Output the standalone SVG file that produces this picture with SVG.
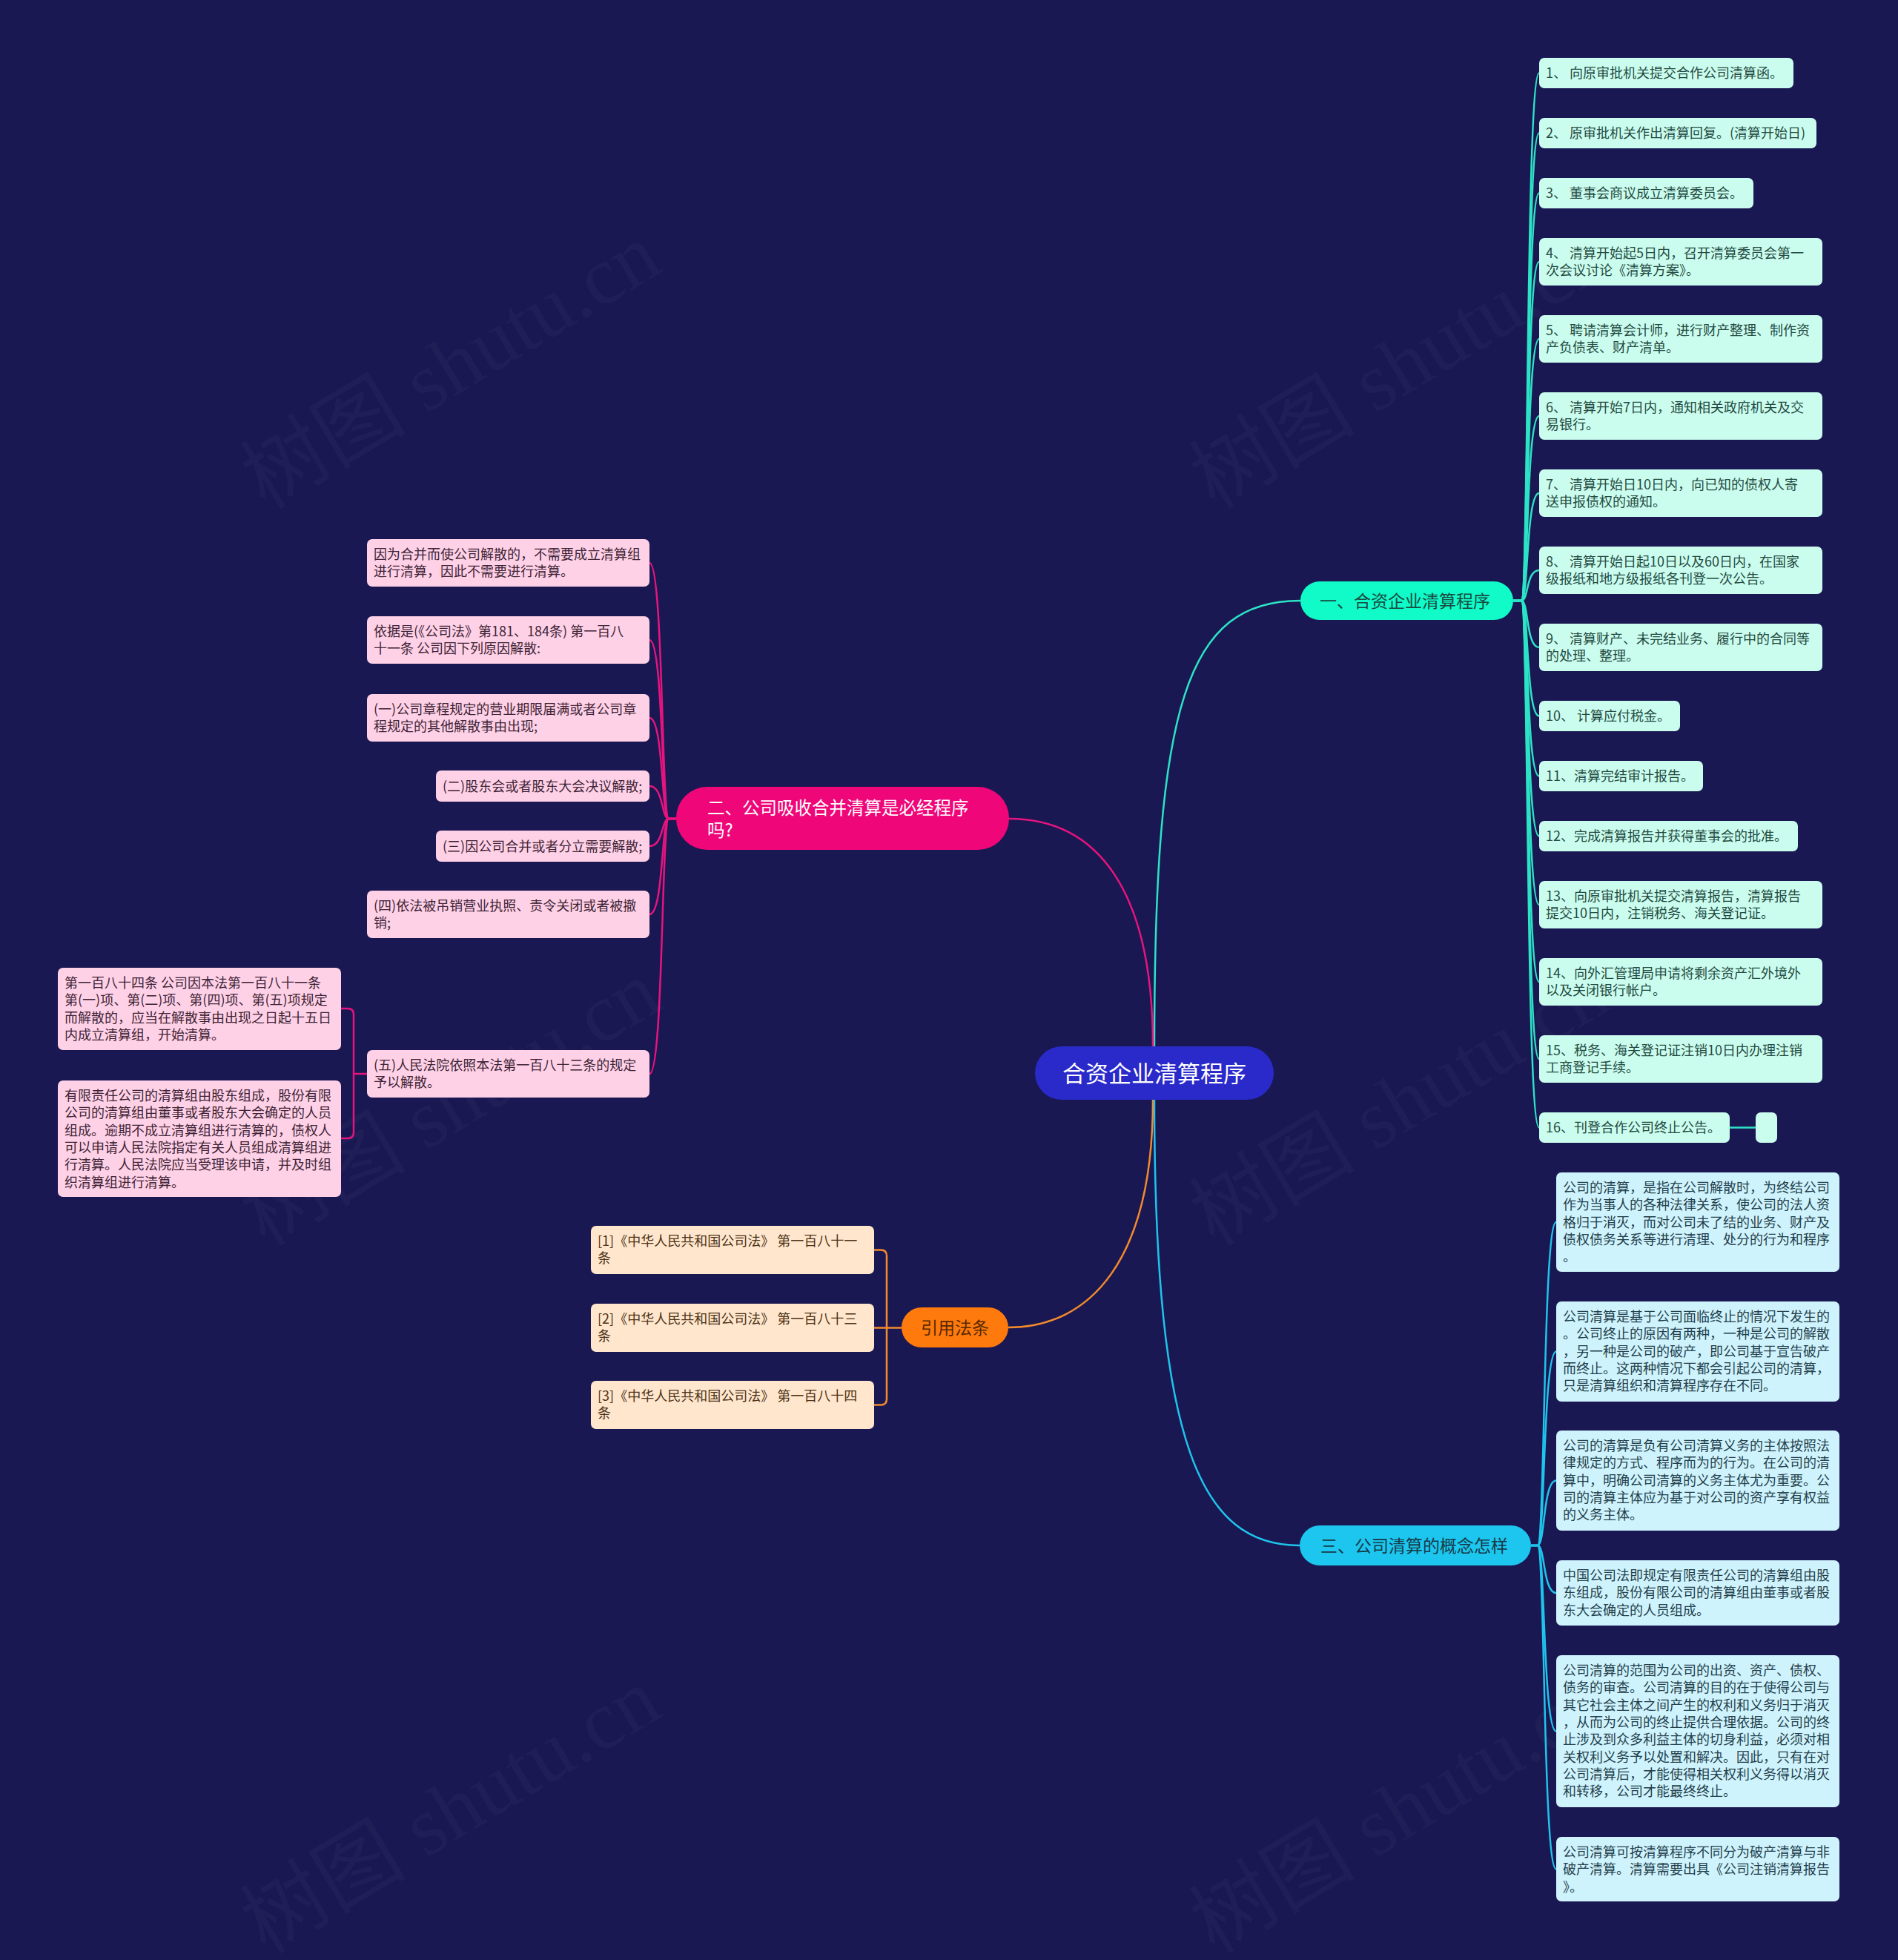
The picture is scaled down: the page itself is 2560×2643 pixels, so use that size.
<svg xmlns="http://www.w3.org/2000/svg" width="2560" height="2643" viewBox="0 0 2560 2643">
<style>
.bg{fill:#1a1852}
.wm{font-family:"Liberation Serif","Noto Sans CJK SC",serif;font-size:112px;fill:#8a8ab0;fill-opacity:0.06}
text{font-family:"Noto Sans CJK SC","Noto Sans",sans-serif}
.t18{font-size:18px}
.c1{fill:none;stroke:#2ce3c6;stroke-width:2.5}
.c2{fill:none;stroke:#e6147e;stroke-width:2.5}
.c3{fill:none;stroke:#f28a2e;stroke-width:2.5}
.c4{fill:none;stroke:#1fc4ec;stroke-width:2.5}
.m1 .box{fill:#cbfdee}
.m1 text{fill:#234a42}
.m2 .box{fill:#ffd1e7}
.m2 text{fill:#3d2435}
.m3 .box{fill:#ffe6cd}
.m3 text{fill:#4c3316}
.m4 .box{fill:#cff3fd}
.m4 text{fill:#233f4b}
</style>
<rect class="bg" x="0" y="0" width="2560" height="2643"/>
<g id="watermarks">
<text class="wm" transform="translate(358,688) rotate(-31)">树图 shutu.cn</text>
<text class="wm" transform="translate(1638,688) rotate(-31)">树图 shutu.cn</text>
<text class="wm" transform="translate(358,1682) rotate(-31)">树图 shutu.cn</text>
<text class="wm" transform="translate(1638,1682) rotate(-31)">树图 shutu.cn</text>
<text class="wm" transform="translate(358,2636) rotate(-31)">树图 shutu.cn</text>
<text class="wm" transform="translate(1638,2636) rotate(-31)">树图 shutu.cn</text>
</g>
<g id="connectors">
<path class="c1" stroke-width="3" d="M1557,1411 C1557,950 1600,810 1754,810"/>
<path class="c2" stroke-width="3" d="M1555,1411 C1555,1200 1480,1104 1361,1104"/>
<path class="c3" stroke-width="3" d="M1555,1483 C1555,1700 1470,1790 1360,1790"/>
<path class="c4" stroke-width="3" d="M1557,1483 C1557,1950 1620,2084 1753,2084"/>
<path class="c1" d="M2041,810 L2052,810 C2062,810 2058,98.5 2076,98.5"/>
<path class="c1" d="M2041,810 L2052,810 C2062,810 2058,179.5 2076,179.5"/>
<path class="c1" d="M2041,810 L2052,810 C2062,810 2058,260.5 2076,260.5"/>
<path class="c1" d="M2041,810 L2052,810 C2062,810 2058,353 2076,353"/>
<path class="c1" d="M2041,810 L2052,810 C2062,810 2058,457 2076,457"/>
<path class="c1" d="M2041,810 L2052,810 C2062,810 2058,561 2076,561"/>
<path class="c1" d="M2041,810 L2052,810 C2062,810 2058,665 2076,665"/>
<path class="c1" d="M2041,810 L2052,810 C2062,810 2058,769 2076,769"/>
<path class="c1" d="M2041,810 L2052,810 C2062,810 2058,873 2076,873"/>
<path class="c1" d="M2041,810 L2052,810 C2062,810 2058,965.5 2076,965.5"/>
<path class="c1" d="M2041,810 L2052,810 C2062,810 2058,1046.5 2076,1046.5"/>
<path class="c1" d="M2041,810 L2052,810 C2062,810 2058,1127.5 2076,1127.5"/>
<path class="c1" d="M2041,810 L2052,810 C2062,810 2058,1220 2076,1220"/>
<path class="c1" d="M2041,810 L2052,810 C2062,810 2058,1324 2076,1324"/>
<path class="c1" d="M2041,810 L2052,810 C2062,810 2058,1428 2076,1428"/>
<path class="c1" d="M2041,810 L2052,810 C2062,810 2058,1520.5 2076,1520.5"/>
<path class="c1" d="M2333,1520.5 L2368,1520.5"/>
<path class="c2" d="M912,1104 L902,1104 C892,1104 895,759 876,759"/>
<path class="c2" d="M912,1104 L902,1104 C892,1104 895,863 876,863"/>
<path class="c2" d="M912,1104 L902,1104 C892,1104 895,968 876,968"/>
<path class="c2" d="M912,1104 L902,1104 C892,1104 895,1060 876,1060"/>
<path class="c2" d="M912,1104 L902,1104 C892,1104 895,1141 876,1141"/>
<path class="c2" d="M912,1104 L902,1104 C892,1104 895,1233 876,1233"/>
<path class="c2" d="M912,1104 L902,1104 C892,1104 895,1448 876,1448"/>
<path class="c2" d="M495,1448 H477"/>
<path class="c2" d="M460,1360 H469 Q477,1360 477,1368 V1527 Q477,1535 469,1535 H460"/>
<path class="c3" d="M1216,1790.5 H1179"/>
<path class="c3" d="M1179,1685.5 H1188 Q1196,1685.5 1196,1693.5 V1886.5 Q1196,1894.5 1188,1894.5 H1179"/>
<path class="c4" d="M2065,2084 L2074,2084 C2084,2084 2081,1648 2099,1648"/>
<path class="c4" d="M2065,2084 L2074,2084 C2084,2084 2081,1822.5 2099,1822.5"/>
<path class="c4" d="M2065,2084 L2074,2084 C2084,2084 2081,1996.5 2099,1996.5"/>
<path class="c4" d="M2065,2084 L2074,2084 C2084,2084 2081,2148 2099,2148"/>
<path class="c4" d="M2065,2084 L2074,2084 C2084,2084 2081,2334.5 2099,2334.5"/>
<path class="c4" d="M2065,2084 L2074,2084 C2084,2084 2081,2520.5 2099,2520.5"/>
</g>
<g id="root">
<rect x="1396" y="1411" width="322" height="72" rx="36" fill="#2a2acb"/>
<text x="1557" y="1459" font-size="31" fill="#ffffff" text-anchor="middle">合资企业清算程序</text>
</g>
<g id="branch1">
<rect x="1754" y="784" width="287" height="52" rx="26" fill="#10fbc8"/>
<text x="1780" y="819" font-size="23" fill="#1a4a40">一、合资企业清算程序</text>
</g>
<g id="branch2">
<rect x="912" y="1061" width="449" height="85" rx="42" fill="#ef0779"/>
<text x="954" y="1098" font-size="23.5" fill="#ffffff">二、公司吸收合并清算是必经程序</text>
<text x="954" y="1128" font-size="23.5" fill="#ffffff">吗?</text>
</g>
<g id="branch3">
<rect x="1216" y="1763" width="144" height="54" rx="27" fill="#ff7a0c"/>
<text x="1288" y="1799" font-size="23" fill="#552800" text-anchor="middle">引用法条</text>
</g>
<g id="branch4">
<rect x="1753" y="2057" width="312" height="54" rx="27" fill="#1cc6ee"/>
<text x="1781" y="2093" font-size="23" fill="#163a48">三、公司清算的概念怎样</text>
</g>
<g class="m1">
<g id="s1"><rect class="box" x="2076" y="78" width="343" height="41" rx="7"/><text class="t18" x="2085" y="105">1、 向原审批机关提交合作公司清算函。</text></g>
<g id="s2"><rect class="box" x="2076" y="159" width="374" height="41" rx="7"/><text class="t18" x="2085" y="186">2、 原审批机关作出清算回复。(清算开始日)</text></g>
<g id="s3"><rect class="box" x="2076" y="240" width="289" height="41" rx="7"/><text class="t18" x="2085" y="267">3、 董事会商议成立清算委员会。</text></g>
<g id="s4"><rect class="box" x="2076" y="321" width="382" height="64" rx="7"/><text class="t18" x="2085" y="348">4、 清算开始起5日内，召开清算委员会第一</text><text class="t18" x="2085" y="371">次会议讨论《清算方案》。</text></g>
<g id="s5"><rect class="box" x="2076" y="425" width="382" height="64" rx="7"/><text class="t18" x="2085" y="452">5、 聘请清算会计师，进行财产整理、制作资</text><text class="t18" x="2085" y="475">产负债表、财产清单。</text></g>
<g id="s6"><rect class="box" x="2076" y="529" width="382" height="64" rx="7"/><text class="t18" x="2085" y="556">6、 清算开始7日内，通知相关政府机关及交</text><text class="t18" x="2085" y="579">易银行。</text></g>
<g id="s7"><rect class="box" x="2076" y="633" width="382" height="64" rx="7"/><text class="t18" x="2085" y="660">7、 清算开始日10日内，向已知的债权人寄</text><text class="t18" x="2085" y="683">送申报债权的通知。</text></g>
<g id="s8"><rect class="box" x="2076" y="737" width="382" height="64" rx="7"/><text class="t18" x="2085" y="764">8、 清算开始日起10日以及60日内，在国家</text><text class="t18" x="2085" y="787">级报纸和地方级报纸各刊登一次公告。</text></g>
<g id="s9"><rect class="box" x="2076" y="841" width="382" height="64" rx="7"/><text class="t18" x="2085" y="868">9、 清算财产、未完结业务、履行中的合同等</text><text class="t18" x="2085" y="891">的处理、整理。</text></g>
<g id="s10"><rect class="box" x="2076" y="945" width="190" height="41" rx="7"/><text class="t18" x="2085" y="972">10、 计算应付税金。</text></g>
<g id="s11"><rect class="box" x="2076" y="1026" width="221" height="41" rx="7"/><text class="t18" x="2085" y="1053">11、清算完结审计报告。</text></g>
<g id="s12"><rect class="box" x="2076" y="1107" width="349" height="41" rx="7"/><text class="t18" x="2085" y="1134">12、完成清算报告并获得董事会的批准。</text></g>
<g id="s13"><rect class="box" x="2076" y="1188" width="382" height="64" rx="7"/><text class="t18" x="2085" y="1215">13、向原审批机关提交清算报告，清算报告</text><text class="t18" x="2085" y="1238">提交10日内，注销税务、海关登记证。</text></g>
<g id="s14"><rect class="box" x="2076" y="1292" width="382" height="64" rx="7"/><text class="t18" x="2085" y="1319">14、向外汇管理局申请将剩余资产汇外境外</text><text class="t18" x="2085" y="1342">以及关闭银行帐户。</text></g>
<g id="s15"><rect class="box" x="2076" y="1396" width="382" height="64" rx="7"/><text class="t18" x="2085" y="1423">15、税务、海关登记证注销10日内办理注销</text><text class="t18" x="2085" y="1446">工商登记手续。</text></g>
<g id="s16"><rect class="box" x="2076" y="1500" width="257" height="41" rx="7"/><text class="t18" x="2085" y="1527">16、刊登合作公司终止公告。</text></g>
<g id="s16x"><rect class="box" x="2368" y="1500" width="29" height="41" rx="7"/></g>
</g>
<g class="m2">
<g id="p1"><rect class="box" x="495" y="727" width="381" height="64" rx="7"/><text class="t18" x="504" y="754">因为合并而使公司解散的，不需要成立清算组</text><text class="t18" x="504" y="777">进行清算，因此不需要进行清算。</text></g>
<g id="p2"><rect class="box" x="495" y="831" width="381" height="64" rx="7"/><text class="t18" x="504" y="858">依据是(《公司法》第181、184条) 第一百八</text><text class="t18" x="504" y="881">十一条 公司因下列原因解散:</text></g>
<g id="p3"><rect class="box" x="495" y="936" width="381" height="64" rx="7"/><text class="t18" x="504" y="963">(一)公司章程规定的营业期限届满或者公司章</text><text class="t18" x="504" y="986">程规定的其他解散事由出现;</text></g>
<g id="p4"><rect class="box" x="588" y="1039" width="288" height="42" rx="7"/><text class="t18" x="597" y="1067">(二)股东会或者股东大会决议解散;</text></g>
<g id="p5"><rect class="box" x="588" y="1120" width="288" height="42" rx="7"/><text class="t18" x="597" y="1148">(三)因公司合并或者分立需要解散;</text></g>
<g id="p6"><rect class="box" x="495" y="1201" width="381" height="64" rx="7"/><text class="t18" x="504" y="1228">(四)依法被吊销营业执照、责令关闭或者被撤</text><text class="t18" x="504" y="1251">销;</text></g>
<g id="p7"><rect class="box" x="495" y="1416" width="381" height="64" rx="7"/><text class="t18" x="504" y="1443">(五)人民法院依照本法第一百八十三条的规定</text><text class="t18" x="504" y="1466">予以解散。</text></g>
<g id="p7a"><rect class="box" x="78" y="1305" width="382" height="111" rx="7"/><text class="t18" x="87" y="1332">第一百八十四条 公司因本法第一百八十一条</text><text class="t18" x="87" y="1355">第(一)项、第(二)项、第(四)项、第(五)项规定</text><text class="t18" x="87" y="1379">而解散的，应当在解散事由出现之日起十五日</text><text class="t18" x="87" y="1402">内成立清算组，开始清算。</text></g>
<g id="p7b"><rect class="box" x="78" y="1457" width="382" height="157" rx="7"/><text class="t18" x="87" y="1484">有限责任公司的清算组由股东组成，股份有限</text><text class="t18" x="87" y="1507">公司的清算组由董事或者股东大会确定的人员</text><text class="t18" x="87" y="1531">组成。逾期不成立清算组进行清算的，债权人</text><text class="t18" x="87" y="1554">可以申请人民法院指定有关人员组成清算组进</text><text class="t18" x="87" y="1577">行清算。人民法院应当受理该申请，并及时组</text><text class="t18" x="87" y="1601">织清算组进行清算。</text></g>
</g>
<g class="m3">
<g id="r1"><rect class="box" x="797" y="1653" width="382" height="65" rx="7"/><text class="t18" x="806" y="1680">[1]《中华人民共和国公司法》 第一百八十一</text><text class="t18" x="806" y="1703">条</text></g>
<g id="r2"><rect class="box" x="797" y="1758" width="382" height="65" rx="7"/><text class="t18" x="806" y="1785">[2]《中华人民共和国公司法》 第一百八十三</text><text class="t18" x="806" y="1808">条</text></g>
<g id="r3"><rect class="box" x="797" y="1862" width="382" height="65" rx="7"/><text class="t18" x="806" y="1889">[3]《中华人民共和国公司法》 第一百八十四</text><text class="t18" x="806" y="1912">条</text></g>
</g>
<g class="m4">
<g id="q1"><rect class="box" x="2099" y="1581" width="382" height="134" rx="7"/><text class="t18" x="2108" y="1608">公司的清算，是指在公司解散时，为终结公司</text><text class="t18" x="2108" y="1631">作为当事人的各种法律关系，使公司的法人资</text><text class="t18" x="2108" y="1655">格归于消灭，而对公司未了结的业务、财产及</text><text class="t18" x="2108" y="1678">债权债务关系等进行清理、处分的行为和程序</text><text class="t18" x="2108" y="1701">。</text></g>
<g id="q2"><rect class="box" x="2099" y="1755" width="382" height="135" rx="7"/><text class="t18" x="2108" y="1782">公司清算是基于公司面临终止的情况下发生的</text><text class="t18" x="2108" y="1805">。公司终止的原因有两种，一种是公司的解散</text><text class="t18" x="2108" y="1829">，另一种是公司的破产，即公司基于宣告破产</text><text class="t18" x="2108" y="1852">而终止。这两种情况下都会引起公司的清算，</text><text class="t18" x="2108" y="1875">只是清算组织和清算程序存在不同。</text></g>
<g id="q3"><rect class="box" x="2099" y="1929" width="382" height="135" rx="7"/><text class="t18" x="2108" y="1956">公司的清算是负有公司清算义务的主体按照法</text><text class="t18" x="2108" y="1979">律规定的方式、程序而为的行为。在公司的清</text><text class="t18" x="2108" y="2003">算中，明确公司清算的义务主体尤为重要。公</text><text class="t18" x="2108" y="2026">司的清算主体应为基于对公司的资产享有权益</text><text class="t18" x="2108" y="2049">的义务主体。</text></g>
<g id="q4"><rect class="box" x="2099" y="2104" width="382" height="88" rx="7"/><text class="t18" x="2108" y="2131">中国公司法即规定有限责任公司的清算组由股</text><text class="t18" x="2108" y="2154">东组成，股份有限公司的清算组由董事或者股</text><text class="t18" x="2108" y="2178">东大会确定的人员组成。</text></g>
<g id="q5"><rect class="box" x="2099" y="2232" width="382" height="205" rx="7"/><text class="t18" x="2108" y="2259">公司清算的范围为公司的出资、资产、债权、</text><text class="t18" x="2108" y="2282">债务的审查。公司清算的目的在于使得公司与</text><text class="t18" x="2108" y="2306">其它社会主体之间产生的权利和义务归于消灭</text><text class="t18" x="2108" y="2329">，从而为公司的终止提供合理依据。公司的终</text><text class="t18" x="2108" y="2352">止涉及到众多利益主体的切身利益，必须对相</text><text class="t18" x="2108" y="2376">关权利义务予以处置和解决。因此，只有在对</text><text class="t18" x="2108" y="2399">公司清算后，才能使得相关权利义务得以消灭</text><text class="t18" x="2108" y="2422">和转移，公司才能最终终止。</text></g>
<g id="q6"><rect class="box" x="2099" y="2477" width="382" height="87" rx="7"/><text class="t18" x="2108" y="2504">公司清算可按清算程序不同分为破产清算与非</text><text class="t18" x="2108" y="2527">破产清算。清算需要出具《公司注销清算报告</text><text class="t18" x="2108" y="2551">》。</text></g>
</g>
</svg>
